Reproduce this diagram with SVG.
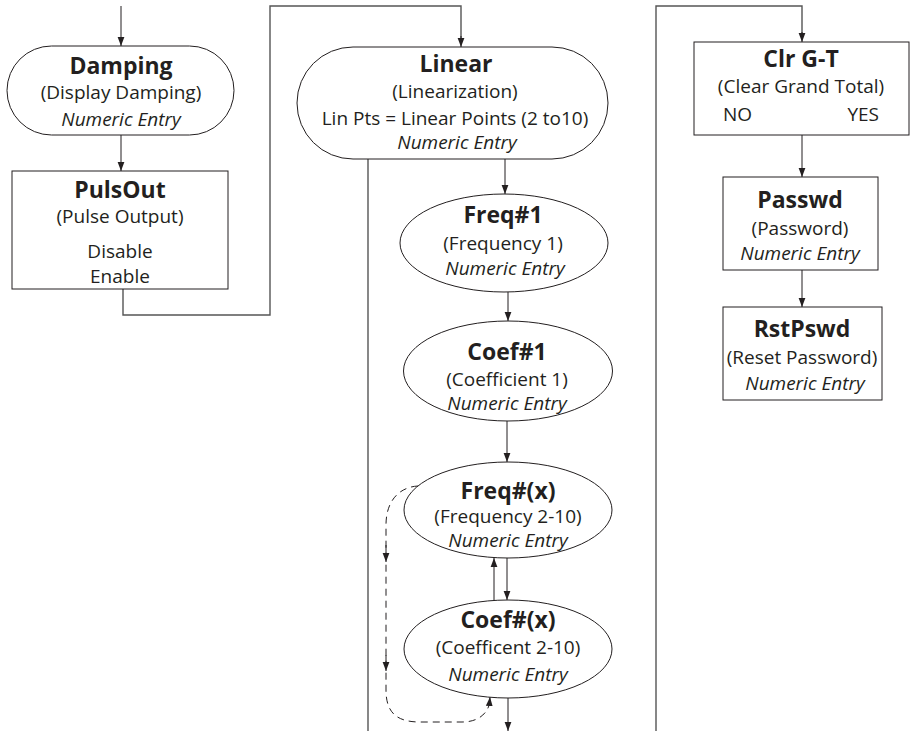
<svg xmlns="http://www.w3.org/2000/svg" width="914" height="731" viewBox="0 0 914 731">
<defs>
<marker id="ah" markerUnits="userSpaceOnUse" markerWidth="10" markerHeight="8" refX="9" refY="4" orient="auto" viewBox="0 0 10 8">
<path d="M0,0.6 L9,4 L0,7.4 Z" fill="#231f20"/>
</marker>
</defs>
<style>
.shape{fill:#fff;stroke:#231f20;stroke-width:1}
.t{font-family:"Open Sans","Noto Sans",sans-serif;font-size:19px;fill:#231f20;text-anchor:middle}
.b{font-weight:bold;font-size:23px}
.i{font-style:italic}
.c{fill:none;stroke:#231f20;stroke-width:1}
.g{fill:none;stroke:#555;stroke-width:1.4}
.a{marker-end:url(#ah)}
.d{stroke-dasharray:7,5}
</style>
<rect width="914" height="731" fill="#fff"/>
<g id="connectors">
<path class="c a" d="M121,6 V46"/>
<path class="c a" d="M121,135 V171"/>
<path class="g" d="M123,289 V315 H270 V6 H461 V38"/>
<path class="c a" d="M461,36 V47"/>
<path class="g" d="M368,159 V731"/>
<path class="c a" d="M505,159 V194"/>
<path class="c a" d="M508,292 V321"/>
<path class="c a" d="M507,421 V462"/>
<path class="c a" d="M507,558 V600"/>
<path class="c a" d="M494,600 V558"/>
<path class="c a" d="M508,698 V731"/>
<path class="c d" d="M418,486 C400,487 386,500 386,525 L386,690 C386,712 396,722 420,722 L462,722 C480,722 488,712 490,702"/>
<path class="c a" d="M489.5,703 L490,697"/>
<path class="c a" d="M386,545 V562"/>
<path class="c a" d="M386,655 V671"/>
<path class="g" d="M656,731 V6 H802 V34"/>
<path class="c a" d="M802,32 V42"/>
<path class="c a" d="M802,135 V177"/>
<path class="c a" d="M802,270 V307"/>
</g>
<g id="damping">
<rect class="shape" x="7" y="46" width="227" height="89" rx="44.5"/>
<text class="t b" x="121" y="74">Damping</text>
<text class="t" x="121" y="99">(Display Damping)</text>
<text class="t i" x="121" y="126">Numeric Entry</text>
</g>
<g id="pulsout">
<rect class="shape" x="12" y="171" width="216" height="118"/>
<text class="t b" x="120" y="198">PulsOut</text>
<text class="t" x="120" y="223">(Pulse Output)</text>
<text class="t" x="120" y="258">Disable</text>
<text class="t" x="120" y="283">Enable</text>
</g>
<g id="linear">
<rect class="shape" x="297" y="47" width="311" height="112" rx="56"/>
<text class="t b" x="456" y="72">Linear</text>
<text class="t" x="455" y="98">(Linearization)</text>
<text class="t" x="455" y="125">Lin Pts = Linear Points (2 to10)</text>
<text class="t i" x="457" y="149">Numeric Entry</text>
</g>
<g id="freq1">
<ellipse class="shape" cx="504" cy="243" rx="104" ry="49"/>
<text class="t b" x="503" y="223">Freq#1</text>
<text class="t" x="503" y="250">(Frequency 1)</text>
<text class="t i" x="505" y="275">Numeric Entry</text>
</g>
<g id="coef1">
<ellipse class="shape" cx="508" cy="371" rx="104.5" ry="50"/>
<text class="t b" x="507" y="360">Coef#1</text>
<text class="t" x="507" y="386">(Coefficient 1)</text>
<text class="t i" x="507" y="410">Numeric Entry</text>
</g>
<g id="freqx">
<ellipse class="shape" cx="508" cy="510" rx="104" ry="48"/>
<text class="t b" x="508" y="499">Freq#(x)</text>
<text class="t" x="508" y="523">(Frequency 2-10)</text>
<text class="t i" x="508" y="547">Numeric Entry</text>
</g>
<g id="coefx">
<ellipse class="shape" cx="508" cy="649" rx="104" ry="49"/>
<text class="t b" x="508" y="628">Coef#(x)</text>
<text class="t" x="508" y="654">(Coefficent 2-10)</text>
<text class="t i" x="508" y="681">Numeric Entry</text>
</g>
<g id="clrgt">
<rect class="shape" x="694" y="42" width="215" height="93"/>
<text class="t b" x="801" y="67">Clr G-T</text>
<text class="t" x="801" y="93">(Clear Grand Total)</text>
<text class="t" x="723" y="121" style="text-anchor:start">NO</text>
<text class="t" x="879" y="121" style="text-anchor:end">YES</text>
</g>
<g id="passwd">
<rect class="shape" x="723" y="177" width="155" height="93"/>
<text class="t b" x="800" y="208">Passwd</text>
<text class="t" x="800" y="235">(Password)</text>
<text class="t i" x="800" y="260">Numeric Entry</text>
</g>
<g id="rstpswd">
<rect class="shape" x="723" y="307" width="159" height="93"/>
<text class="t b" x="802" y="337">RstPswd</text>
<text class="t" x="802" y="364">(Reset Password)</text>
<text class="t i" x="805" y="390">Numeric Entry</text>
</g>
</svg>
